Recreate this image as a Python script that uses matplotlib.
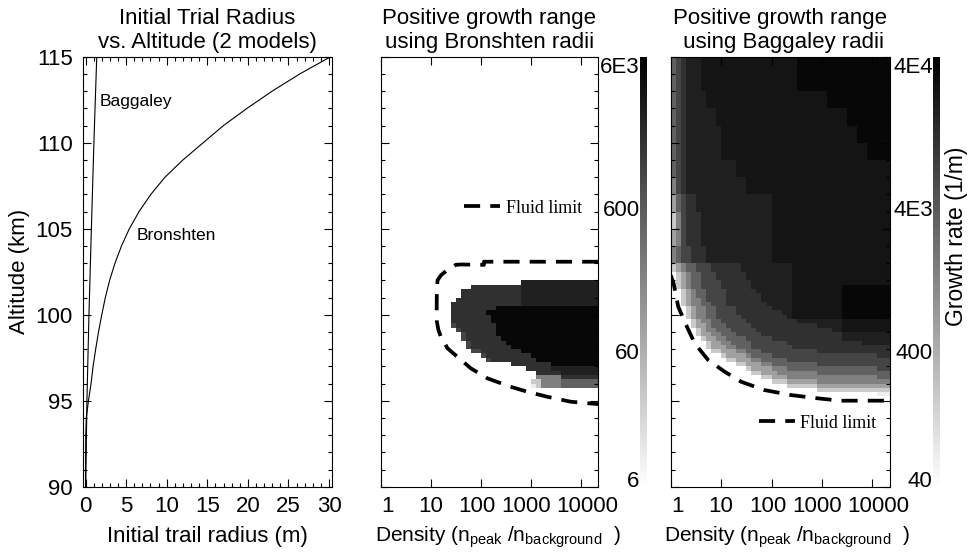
import numpy as np
import matplotlib
matplotlib.use("Agg")
import matplotlib.pyplot as plt
from matplotlib.colors import LogNorm
from matplotlib.ticker import MultipleLocator, LogLocator, NullFormatter, NullLocator, FixedLocator

plt.rcParams["font.family"] = ["Liberation Sans", "DejaVu Sans"]
plt.rcParams["mathtext.fontset"] = "custom"
plt.rcParams["mathtext.rm"] = "Liberation Sans"
plt.rcParams["mathtext.it"] = "Liberation Sans:italic"

# ---- left panel: initial trail radius vs altitude ----
bron_alt = [90, 91, 92, 93, 94, 95, 96, 97, 98, 99, 100, 101, 102,
            103, 104, 105, 106, 107, 108, 109, 110, 111, 112, 113, 114, 115]
bron_r = [0.0, 0.0, 0.01, 0.03, 0.09, 0.36, 0.68, 0.93, 1.25, 1.6, 2.0, 2.44, 2.97,
          3.63, 4.43, 5.4, 6.6, 8.05, 9.8, 12.0, 14.5, 17.0, 19.9, 23.0, 26.4, 30.2]
bag_alt = [90, 95, 100, 105, 110, 115]
bag_r = [0.02, 0.17, 0.42, 0.72, 1.03, 1.38]

# ---- growth-rate maps: columns are 0.1-decade density bins from 1 to 10^4.4 ----
n_cols = 44
# grey codes: '.' = no positive growth, 0 (lightest) .. 9 (darkest)
mid_levels = [10, 26, 77, 190, 430, 930, 1600, 2500, 3500, 4900]
right_levels = [65, 170, 510, 1260, 2900, 6200, 10800, 17000, 23000, 32500]

# Bronshten radii, 0.25 km rows from 102.0 km down to 95.75 km
mid_rows = [
    '.' * 28 + '7' * 16,
    '.' * 18 + '6' * 10 + '7' * 16,
    '.' * 16 + '6' * 12 + '7' * 16,
    '.' * 16 + '6' * 12 + '7' * 16,
    '.' * 15 + '6' * 13 + '7' * 16,
    '.' * 14 + '6' * 14 + '7' * 16,
    '.' * 14 + '6' * 9 + '9' * 21,
    '.' * 14 + '6' * 7 + '9' * 23,
    '.' * 14 + '6' * 8 + '9' * 22,
    '.' * 14 + '6' * 8 + '9' * 22,
    '.' * 14 + '5' + '6' * 8 + '9' * 21,
    '.' * 15 + '5' + '6' * 7 + '9' * 21,
    '.' * 16 + '5' + '6' * 6 + '9' * 21,
    '.' * 16 + '5' + '6' * 7 + '9' * 20,
    '.' * 17 + '5' + '6' * 7 + '9' * 19,
    '.' * 17 + '5' + '6' * 8 + '9' * 18,
    '.' * 18 + '55' + '6' * 8 + '9' * 16,
    '.' * 20 + '5' + '6' * 9 + '9' * 14,
    '.' * 21 + '5' + '6' * 9 + '9' * 13,
    '.' * 26 + '6' * 8 + '9' * 10,
    '.' * 29 + '6' * 5 + '7' * 10,
    '.' * 31 + '6' * 5 + '7' * 8,
    '.' * 31 + '3' * 5 + '6' * 8,
    '.' * 30 + '11' + '3' * 4 + '4' * 8,
    '.' * 30 + '01' + '3' * 4 + '4' * 8,
]

# Baggaley radii, 1 km rows 115-103 km then 0.25 km rows 103-95 km
right_rows = [
    '456' + '7' * 3 + '8' * 19 + '9' * 19,
    '456' + '7' * 3 + '8' * 19 + '9' * 19,
    '456' + '7' * 4 + '8' * 24 + '9' * 13,
    '456' + '7' * 6 + '8' * 26 + '9' * 9,
    '456' + '7' * 7 + '8' * 27 + '9' * 7,
    '456' + '7' * 7 + '8' * 29 + '9' * 5,
    '456' + '7' * 10 + '8' * 31,
    '356' + '7' * 12 + '8' * 29,
    '245' + '66' + '7' * 15 + '8' * 24,
    '135' + '666' + '7' * 14 + '8' * 24,
    '235' + '666' + '7' * 14 + '8' * 24,
    '3455' + '666' + '7' * 13 + '8' * 24,
    '12344555' + '6' * 6 + '7' * 10 + '8' * 20,
    '12344555' + '6' * 6 + '7' * 10 + '8' * 20,
    '.12344555' + '6' * 6 + '7' * 9 + '8' * 20,
    '.12344555' + '6' * 6 + '7' * 9 + '8' * 20,
    '.123445555' + '6' * 6 + '7' * 8 + '8' * 20,
    '.123445555' + '6' * 6 + '7' * 8 + '8' * 10 + '9' * 10,
    '..123445555' + '6' * 6 + '7' * 7 + '8' * 10 + '9' * 10,
    '..123445555' + '6' * 7 + '7' * 6 + '8' * 10 + '9' * 10,
    '..123345555' + '6' * 7 + '7' * 6 + '8' * 10 + '9' * 10,
    '..123344555' + '6' * 8 + '7' * 5 + '8' * 10 + '9' * 10,
    '...1233445555' + '6' * 7 + '7' * 4 + '8' * 10 + '9' * 10,
    '...1233445555' + '6' * 9 + '7' * 2 + '8' * 10 + '9' * 10,
    '...12334455555' + '6' * 9 + '7' + '8' * 10 + '9' * 10,
    '....123344' + '55555' + '6' * 10 + '7' * 9 + '8' * 10,
    '....1223444' + '55555' + '6' * 13 + '7' * 5 + '8' * 10,
    '.....1233444' + '55555' + '6' * 15 + '7' * 2 + '8' * 10,
    '.....' + '12233' + '444' + '55555' + '6' * 16 + '7' * 10,
    '......' + '1' + '22' + '33' + '4444' + '55555' + '6' * 14 + '7' * 10,
    '.......' + '1' + '22' + '33' + '4444' + '5' * 7 + '6' * 15 + '7' * 6,
    '.......' + '1' + '222' + '33' + '444' + '5' * 8 + '6' * 20,
    '........' + '11' + '222' + '33' + '444' + '5' * 11 + '6' * 15,
    '.' * 10 + '1' + '2222' + '3' + '4444' + '5' * 21 + '6' * 3,
    '.' * 11 + '11' + '222' + '33' + '4' * 5 + '5' * 21,
    '.' * 13 + '11' + '222' + '33' + '4' * 9 + '5' * 15,
    '.' * 15 + '1' + '2222' + '333' + '4' * 18 + '555',
    '.' * 16 + '11' + '222' + '3' * 8 + '4' * 15,
    '.' * 18 + '11' + '222' + '3' * 18 + '444',
    '.' * 20 + '111' + '2' * 6 + '3' * 15,
    '.' * 23 + '1' * 6 + '2' * 15,
    '.' * 29 + '1' * 15,
    '.' * 41 + '000',
    '.' * 44,
]

# fluid limit contours (density, altitude km)
fluid_mid_d = [22000, 115, 115, 40, 31.5, 21.5, 16, 13.6, 13.2, 13.1, 13.2, 14.2,
               15.8, 21.5, 40, 63, 135, 390, 850, 2100, 6200, 22000]
fluid_mid_alt = [103.08, 103.08, 102.9, 102.92, 102.9, 102.6, 102.3, 102.0, 101.3, 100.5, 99.6, 99.1,
                 98.74, 98.05, 97.37, 96.88, 96.30, 95.81, 95.52, 95.23, 94.94, 94.8]
fluid_right_d = [1.0, 1.14, 1.41, 1.95, 3.0, 5.5, 11.7, 25, 72, 240, 810, 2340, 22000]
fluid_right_alt = [102.3, 101.83, 100.47, 99.5, 98.33, 97.37, 96.69, 96.10, 95.62, 95.33, 95.14, 95.0, 95.0]

cbar_mid_ticks = [6000, 600, 60, 6]
cbar_mid_labels = ["6E3", "600", "60", "6"]
cbar_right_ticks = [40000, 4000, 400, 40]
cbar_right_labels = ["4E4", "4E3", "400", "40"]
dens_ticks = [1, 10, 100, 1000, 10000]
dens_labels = ["1", "10", "100", "1000", "10000"]
dens_label_shift = [5, 0, -3, -3.5, 4.5]   # points, as the labels sit in the original


def decode(rows, levels):
    grid = np.full((len(rows), n_cols), np.nan)
    for i, row in enumerate(rows):
        for j, ch in enumerate(row[:n_cols]):
            if ch != ".":
                grid[i, j] = levels[int(ch)]
    return np.ma.masked_invalid(grid)


W, H = 970, 552


def box(x0, y0, x1, y1):
    return [x0 / W, 1 - y1 / H, (x1 - x0) / W, (y1 - y0) / H]


def style(ax):
    ax.tick_params(which="both", direction="in", top=True, right=True,
                   width=0.8, labelsize=16, pad=7, colors="black")
    ax.tick_params(which="major", length=6)
    ax.tick_params(which="minor", length=3)
    for s in ax.spines.values():
        s.set_linewidth(0.8)
    ax.set_ylim(90, 115)
    ax.yaxis.set_major_locator(MultipleLocator(5))
    ax.yaxis.set_minor_locator(MultipleLocator(1))


fig = plt.figure(figsize=(9.7, 5.52), dpi=100)
ax1 = fig.add_axes(box(82.7, 56.7, 332.3, 486.7))
ax2 = fig.add_axes(box(380.7, 56.7, 598.3, 486.7))
ax3 = fig.add_axes(box(670.7, 56.7, 889.7, 486.7))
cax2 = fig.add_axes(box(640.3, 56.7, 647.3, 486.7))
cax3 = fig.add_axes(box(933.3, 56.7, 940.0, 486.7))

# left
style(ax1)
ax1.plot(bron_r, bron_alt, color="black", lw=0.8)
ax1.plot(bag_r, bag_alt, color="black", lw=0.8)
ax1.text(1.7, 112.4, "Baggaley", fontsize=12.5, ha="left", va="center")
ax1.text(6.3, 104.6, "Bronshten", fontsize=12.5, ha="left", va="center")
ax1.set_xlim(-0.35, 30.4)
ax1.xaxis.set_major_locator(MultipleLocator(5))
ax1.xaxis.set_minor_locator(MultipleLocator(1))
ax1.set_ylabel("Altitude (km)", fontsize=16, labelpad=4)
ax1.set_xlabel("Initial trail radius (m)", fontsize=16, labelpad=6)
ax1.set_title("Initial Trial Radius\nvs. Altitude (2 models)", fontsize=16, linespacing=1.2, pad=6)

dens_edges = 10 ** (np.arange(n_cols + 1) / 10)
mid_edges = 102.0 - 0.25 * np.arange(len(mid_rows) + 1)
right_edges = np.concatenate([115 - np.arange(13), 102.75 - 0.25 * np.arange(32)])

norm_mid = LogNorm(vmin=6, vmax=6000)
norm_right = LogNorm(vmin=40, vmax=40000)

panels = [
    (ax2, cax2, mid_rows, mid_levels, mid_edges, norm_mid, fluid_mid_d, fluid_mid_alt,
     cbar_mid_ticks, cbar_mid_labels, "Positive growth range\nusing Bronshten radii",
     (0.384, 0.6474), 0.539),
    (ax3, cax3, right_rows, right_levels, right_edges, norm_right, fluid_right_d, fluid_right_alt,
     cbar_right_ticks, cbar_right_labels, "Positive growth range\n using Baggaley radii",
     (0.403, 0.1474), 0.531),
]

for ax, cax, rows, levels, yedges, norm, fd, fa, cticks, clabels, title, leg_at, xlab_x in panels:
    style(ax)
    ax.pcolormesh(dens_edges, yedges, decode(rows, levels), cmap="gray_r", norm=norm,
                  shading="flat", antialiased=False, linewidth=0)
    line, = ax.plot(fd, fa, color="black", lw=2.7, linestyle=(0, (4.3, 2.7)), label="Fluid limit")
    ax.set_xscale("log")
    ax.set_xlim(1, 22000)
    ax.xaxis.set_major_locator(FixedLocator(dens_ticks))
    ax.xaxis.set_major_formatter(NullFormatter())
    ax.xaxis.set_minor_locator(LogLocator(base=10, subs=np.arange(2, 10)))
    ax.xaxis.set_minor_formatter(NullFormatter())
    for t, lab, dx in zip(dens_ticks, dens_labels, dens_label_shift):
        ax.annotate(lab, xy=(t, 0), xycoords=ax.get_xaxis_transform(), xytext=(dx, -7),
                    textcoords="offset points", ha="center", va="top", fontsize=16)
    ax.tick_params(axis="y", labelleft=False)
    ax.set_xlabel(r"Density (n$_{\mathrm{peak}}$ /n$_{\mathrm{background}}$  )", fontsize=15)
    ax.xaxis.set_label_coords(xlab_x, -0.087)
    ax.set_title(title, fontsize=16, linespacing=1.2, pad=6)
    ax.legend(handles=[line], loc="center left", bbox_to_anchor=leg_at, frameon=False,
              borderpad=0, borderaxespad=0, handlelength=2.0, handletextpad=0.3,
              prop={"family": "Liberation Serif", "size": 13})

    sm = plt.cm.ScalarMappable(norm=norm, cmap="gray_r")
    cb = fig.colorbar(sm, cax=cax)
    cb.outline.set_visible(False)
    cax.yaxis.set_major_locator(NullLocator())
    cax.yaxis.set_minor_locator(NullLocator())
    for k, (v, lab) in enumerate(zip(cticks, clabels)):
        va = "baseline" if k == len(cticks) - 1 else "top"
        cax.text(-0.1, v, lab, transform=cax.get_yaxis_transform(), ha="right", va=va, fontsize=16)

fig.text(956.7 / W, 1 - 236.7 / H, "Growth rate (1/m)", rotation=90, ha="center", va="center", fontsize=16.5)

fig.savefig("out.png", dpi=100, facecolor="white")
